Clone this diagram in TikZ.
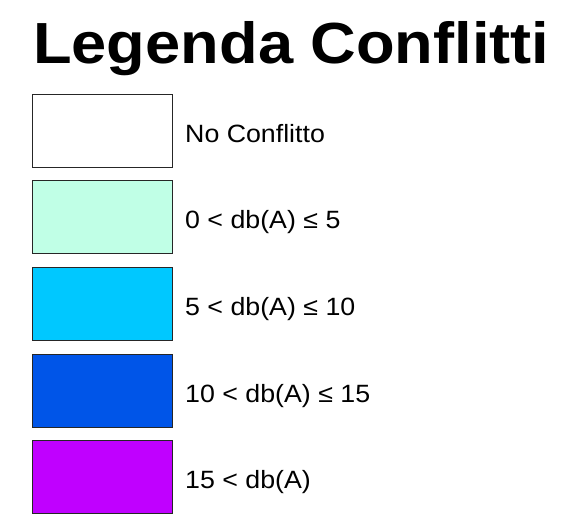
\documentclass[tikz,border=0pt]{standalone}
\usepackage{fontspec}
\setmainfont{Liberation Sans}
\usetikzlibrary{positioning}

\definecolor{nessuno}{RGB}{255,255,255}
\definecolor{livello1}{RGB}{192,255,230}
\definecolor{livello2}{RGB}{0,200,255}
\definecolor{livello3}{RGB}{0,85,232}
\definecolor{livello4}{RGB}{192,0,255}

\newcommand{\largo}[2]{\scalebox{#1}[1]{#2}}

\begin{document}
\begin{tikzpicture}[
    x=1pt, y=-1pt,
    swatch/.style={draw=black!85, line width=0.8pt, minimum width=140pt, minimum height=73pt, inner sep=0pt},
    voce/.style={anchor=base west, inner sep=0pt, font=\fontsize{25}{30}\selectfont},
    titolo/.style={anchor=base west, inner sep=0pt, font=\fontsize{58}{66}\selectfont\bfseries}
]
\useasboundingbox (0,0) rectangle (568,517);
\node[titolo] (title) at (33,63) {\largo{1.09}{Legenda Conflitti}};

\node[swatch, fill=nessuno] (b0) at (102,130.5) {};
\node[swatch, fill=livello1] (b1) at (102,217) {};
\node[swatch, fill=livello2] (b2) at (102,303.5) {};
\node[swatch, fill=livello3] (b3) at (102,390.5) {};
\node[swatch, fill=livello4] (b4) at (102,477) {};

\node[voce] (l0) at (185,142) {\largo{1.07}{No Conflitto}};
\node[voce] (l1) at (185,228.5) {\largo{1.07}{0 < db(A) ≤ 5}};
\node[voce] (l2) at (185,315) {\largo{1.07}{5 < db(A) ≤ 10}};
\node[voce] (l3) at (185,402) {\largo{1.07}{10 < db(A) ≤ 15}};
\node[voce] (l4) at (185,488.5) {\largo{1.07}{15 < db(A)}};
\end{tikzpicture}
\end{document}
